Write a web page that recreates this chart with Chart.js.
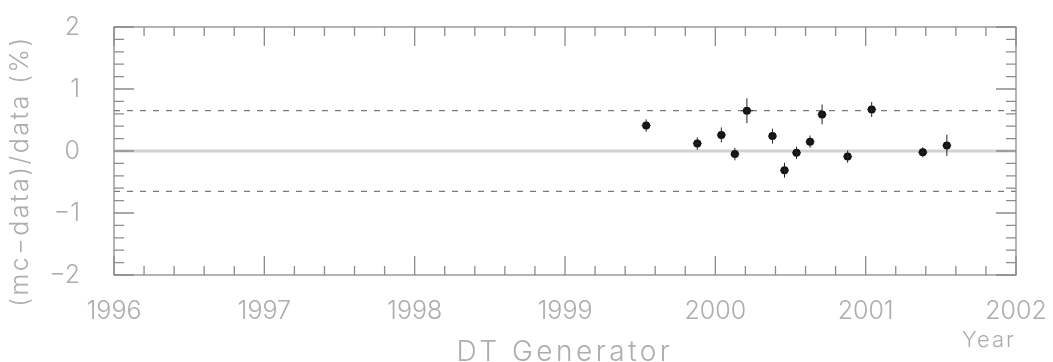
<!DOCTYPE html>
<html>
<head>
<meta charset="utf-8">
<title>DT Generator</title>
<script src="https://cdn.jsdelivr.net/npm/chart.js@4.4.0/dist/chart.umd.min.js"></script>
<style>
	html, body { margin: 0; padding: 0; background: #fff; }
	#wrap { width: 1053px; height: 362px; }
</style>
</head>
<body>
<div id="wrap"><canvas id="container" width="1053" height="362"></canvas></div>
<script>
// measurements (mc-data)/data in %, by date
const years = [1999.54, 1999.88, 2000.04, 2000.13, 2000.21, 2000.38, 2000.46,
			   2000.54, 2000.63, 2000.71, 2000.88, 2001.04, 2001.38, 2001.54];
const diffs = [0.41, 0.12, 0.26, -0.05, 0.65, 0.24, -0.31,
			   -0.03, 0.15, 0.59, -0.09, 0.67, -0.02, 0.09];
const yErr  = [0.10, 0.10, 0.12, 0.10, 0.20, 0.12, 0.12,
			   0.10, 0.10, 0.16, 0.10, 0.12, 0.08, 0.17];
const xErr  = [0.03, 0.03, 0.03, 0.03, 0.04, 0.03, 0.03,
			   0.03, 0.03, 0.03, 0.03, 0.03, 0.03, 0.03];

// tolerance band and axis ranges
const band = 0.65;
const xRange = [1996, 2002];
const yRange = [-2, 2];
const xTicks = [1996, 1997, 1998, 1999, 2000, 2001, 2002];
const yTicks = [-2, -1, 0, 1, 2];
const minorStep = 0.2;

const FONT = 'Inter';
const TEXT = '#adadad';
const FRAME = '#8c8c8c';

function flatLine(y) {
	return xRange.map(function(x) { return { x: x, y: y }; });
}

// frame + inward ticks on all four sides, like a HIGZ plot
const framePlugin = {
	id: 'frame',
	afterDatasetsDraw(chart) {
		const ctx = chart.ctx;
		const a = chart.chartArea;
		const xs = chart.scales.x, ys = chart.scales.y;
		ctx.save();
		ctx.strokeStyle = FRAME;
		ctx.lineWidth = 1.3;
		ctx.strokeRect(a.left, a.top, a.right - a.left, a.bottom - a.top);
		ctx.beginPath();
		let n = Math.round((xRange[1] - xRange[0]) / minorStep);
		for (let i = 0; i <= n; i++) {
			let px = xs.getPixelForValue(xRange[0] + i * minorStep);
			let len = (i % 5 === 0) ? 19 : 9;
			ctx.moveTo(px, a.bottom); ctx.lineTo(px, a.bottom - len);
			ctx.moveTo(px, a.top); ctx.lineTo(px, a.top + len);
		}
		n = Math.round((yRange[1] - yRange[0]) / minorStep);
		for (let i = 0; i <= n; i++) {
			let py = ys.getPixelForValue(yRange[0] + i * minorStep);
			let len = (i % 5 === 0) ? 20 : 10;
			ctx.moveTo(a.left, py); ctx.lineTo(a.left + len, py);
			ctx.moveTo(a.right, py); ctx.lineTo(a.right - len, py);
		}
		ctx.stroke();
		ctx.restore();
	}
};

// error bars for the measurement dataset
const errorBarPlugin = {
	id: 'errorBars',
	afterDatasetsDraw(chart) {
		const ctx = chart.ctx;
		const xs = chart.scales.x, ys = chart.scales.y;
		ctx.save();
		ctx.strokeStyle = '#222';
		ctx.lineWidth = 1;
		ctx.beginPath();
		years.forEach(function(x, i) {
			let y = diffs[i];
			ctx.moveTo(xs.getPixelForValue(x), ys.getPixelForValue(y - yErr[i]));
			ctx.lineTo(xs.getPixelForValue(x), ys.getPixelForValue(y + yErr[i]));
			ctx.moveTo(xs.getPixelForValue(x - xErr[i]), ys.getPixelForValue(y));
			ctx.lineTo(xs.getPixelForValue(x + xErr[i]), ys.getPixelForValue(y));
		});
		ctx.stroke();
		ctx.restore();
	}
};

// axis captions
const captionPlugin = {
	id: 'captions',
	afterDraw(chart) {
		const ctx = chart.ctx;
		const a = chart.chartArea;
		ctx.save();
		ctx.fillStyle = TEXT;
		ctx.font = '300 25px ' + FONT;
		ctx.letterSpacing = '2.5px';
		ctx.textBaseline = 'middle';
		ctx.textAlign = 'center';
		ctx.translate(20, 171);
		ctx.rotate(-Math.PI / 2);
		ctx.fillText('(mc\u2212data)/data (%)', 0, 0);
		ctx.restore();

		ctx.save();
		ctx.fillStyle = TEXT;
		ctx.font = '300 28px ' + FONT;
		ctx.letterSpacing = '3.5px';
		ctx.textAlign = 'center';
		ctx.textBaseline = 'alphabetic';
		ctx.fillText('DT Generator', (a.left + a.right) / 2, 361);
		ctx.font = '300 22px ' + FONT;
		ctx.letterSpacing = '2px';
		ctx.textAlign = 'right';
		ctx.fillText('Year', a.right, 347);
		ctx.restore();
	}
};

const data = {
	datasets: [
		{
			label: 'mc vs data',
			data: years.map(function(x, i) { return { x: x, y: diffs[i] }; }),
			pointStyle: 'circle',
			pointRadius: 4,
			pointBackgroundColor: '#111',
			pointBorderWidth: 0,
			showLine: false
		},
		{
			label: '+band',
			data: flatLine(band),
			showLine: true,
			borderColor: '#7a7a7a',
			borderWidth: 1.2,
			borderDash: [6, 7],
			pointRadius: 0
		},
		{
			label: '-band',
			data: flatLine(-band),
			showLine: true,
			borderColor: '#7a7a7a',
			borderWidth: 1.2,
			borderDash: [6, 7],
			pointRadius: 0
		},
		{
			label: 'zero',
			data: flatLine(0),
			showLine: true,
			borderColor: '#d2d2d2',
			borderWidth: 3,
			pointRadius: 0
		}
	]
};

const config = {
	type: 'scatter',
	data: data,
	options: {
		responsive: false,
		animation: false,
		devicePixelRatio: 1,
		layout: { padding: { left: 0, top: 27, right: 37, bottom: 0 } },
		plugins: {
			legend: { display: false },
			tooltip: { enabled: false }
		},
		scales: {
			x: {
				type: 'linear',
				min: xRange[0],
				max: xRange[1],
				grid: { display: false },
				border: { display: false },
				afterBuildTicks: function(s) { s.ticks = xTicks.map(function(v) { return { value: v }; }); },
				afterFit: function(s) {
					s.height = 87;
					s.paddingLeft = 0;
					s.paddingRight = 0;
				},
				ticks: {
					padding: 13,
					maxRotation: 0,
					autoSkip: false,
					color: TEXT,
					font: { family: FONT, size: 25, weight: 300 },
					callback: function(v) { return String(v); }
				}
			},
			y: {
				type: 'linear',
				min: yRange[0],
				max: yRange[1],
				grid: { display: false },
				border: { display: false },
				afterBuildTicks: function(s) { s.ticks = yTicks.map(function(v) { return { value: v }; }); },
				afterFit: function(s) {
					s.width = 114;
					s.paddingTop = 0;
					s.paddingBottom = 0;
				},
				ticks: {
					padding: 26,
					color: TEXT,
					font: { family: FONT, size: 25, weight: 300 },
					callback: function(v) { return String(v).replace('-', '\u2212'); }
				}
			}
		}
	},
	plugins: [framePlugin, errorBarPlugin, captionPlugin]
};

let ctx = document.getElementById('container').getContext('2d');
let chart = new Chart(ctx, config);
</script>
</body>
</html>
